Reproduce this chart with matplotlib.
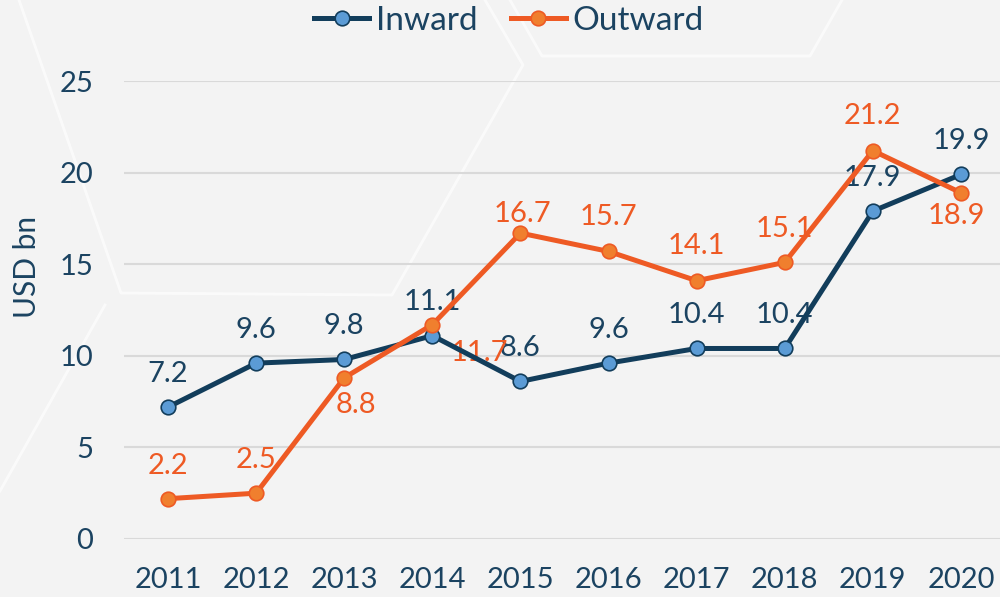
import matplotlib.pyplot as plt
import numpy as np

plt.rcParams['font.family'] = ['Lato', 'DejaVu Sans']

years = ['2011', '2012', '2013', '2014', '2015', '2016', '2017', '2018', '2019', '2020']
inward = [7.2, 9.6, 9.8, 11.1, 8.6, 9.6, 10.4, 10.4, 17.9, 19.9]
outward = [2.2, 2.5, 8.8, 11.7, 16.7, 15.7, 14.1, 15.1, 21.2, 18.9]

# label placement (pixels from the marker), like the hand-placed labels in the original
inward_off = [(0, 36)] * 10
outward_off = [(0, 35), (0, 36), (12, -25), (47, -26), (2, 22),
               (0, 37), (0, 37), (0, 36), (0, 37), (-5, -21)]

navy = '#123d5b'
navy_txt = '#1b4361'
blue_fill = '#5b9bd5'
orange = '#ee5a24'
orange_fill = '#f07f2e'
bg = '#f3f3f3'

fig = plt.figure(figsize=(10, 5.97), dpi=100, facecolor=bg)

# faint hexagon outlines in the background
deco = [
    [(19, 0), (121, 293), (392, 295), (523, 65), (485, 0)],
    [(105, 305), (0, 491)],
    [(510, 0), (542, 56), (810, 56), (842, 0)],
]
for pts in deco:
    xs = [p[0] / 1000 for p in pts]
    ys = [1 - p[1] / 597 for p in pts]
    fig.add_artist(plt.Line2D(xs, ys, transform=fig.transFigure, color='white',
                              lw=2, alpha=0.65, zorder=0))

ax = fig.add_axes([0.124, 0.0972, 0.881, 0.767])
ax.set_facecolor('none')

x = np.arange(len(years))
ax.plot(x, inward, color=navy, lw=3.6, marker='o', ms=10.5, mfc=blue_fill,
        mec=navy, mew=1.2, zorder=4, label='Inward')
ax.plot(x, outward, color=orange, lw=3.6, marker='o', ms=10.5, mfc=orange_fill,
        mec=orange, mew=1.2, zorder=5, label='Outward')

for xi, v, off in zip(x, inward, inward_off):
    ax.annotate(f'{v:.1f}', (xi, v), xytext=off, textcoords='offset pixels',
                ha='center', va='center_baseline', fontsize=21, color=navy_txt, zorder=3)
for xi, v, off in zip(x, outward, outward_off):
    ax.annotate(f'{v:.1f}', (xi, v), xytext=off, textcoords='offset pixels',
                ha='center', va='center_baseline', fontsize=21, color=orange, zorder=3)

ax.set_xlim(-0.5, 9.5)
ax.set_ylim(0, 25)
ax.set_yticks(np.arange(0, 26, 5))
ax.set_xticks(x, years)
ax.grid(axis='y', color='#d9d9d9', lw=1.5)
ax.set_axisbelow(True)
for s in ax.spines.values():
    s.set_visible(False)
ax.tick_params(axis='both', length=0, labelsize=21, labelcolor=navy_txt)
ax.tick_params(axis='y', pad=22)
ax.tick_params(axis='x', pad=20)

fig.text(0.027, 1 - 267 / 597, 'USD bn', rotation=90, ha='center', va='center',
         fontsize=21.5, color=navy_txt)

fig.legend(loc='center', bbox_to_anchor=(0.509, 1 - 21 / 597), ncol=2, frameon=False,
           fontsize=24, labelcolor=navy_txt, handlelength=1.65, handletextpad=0.2,
           columnspacing=1.0)

plt.savefig('out.png', dpi=100, facecolor=bg)
